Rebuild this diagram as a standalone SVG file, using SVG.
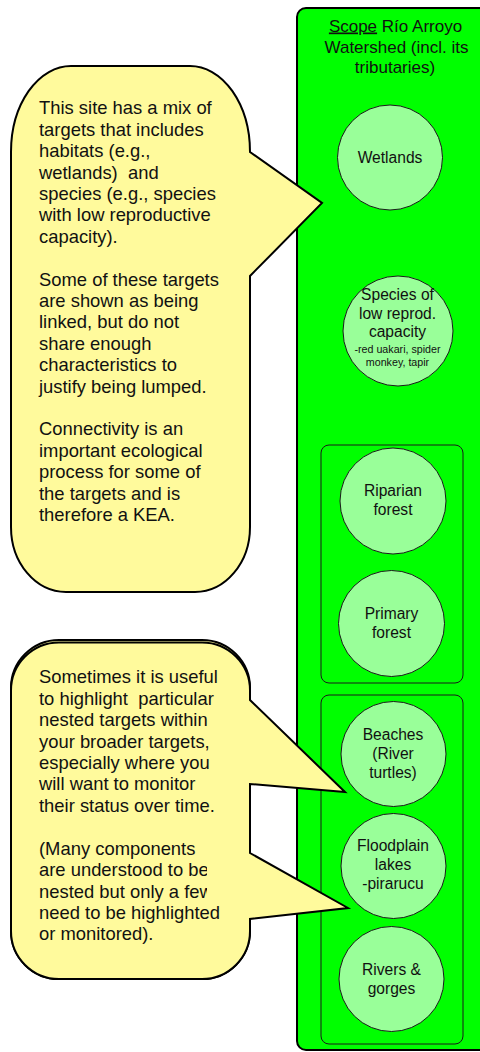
<svg xmlns="http://www.w3.org/2000/svg" width="480" height="1052" viewBox="0 0 480 1052">
<style>
text{font-family:"Liberation Sans",Arial,sans-serif;fill:#111}
.scope{fill:#00ff00;stroke:#000;stroke-width:2}
.grp{fill:none;stroke:#1a1a1a;stroke-width:1}
.node{fill:#99ff99;stroke:#1a1a1a;stroke-width:1}
.nt{font-size:15.6px;text-anchor:middle}
.st{font-size:17px;text-anchor:middle}
.small{font-size:10.7px;text-anchor:middle}
.call{fill:#fffa9c;stroke:#000;stroke-width:2;stroke-linejoin:miter}
.ct{font-size:18.4px}
</style>
<defs>
<clipPath id="clipcut"><rect x="0" y="0" width="207" height="1052"/></clipPath>
</defs>
<g id="scope">
<rect class="scope" x="297" y="8" width="200" height="1042" rx="9"/>
<text class="st" x="395.5" y="31.5"><tspan text-decoration="underline">Scope</tspan> Río Arroyo</text>
<text class="st" x="396.5" y="53">Watershed (incl. its</text>
<text class="st" x="395" y="73">tributaries)</text>
</g>
<g id="group-forest">
<rect class="grp" x="321" y="445" width="142" height="238" rx="8"/>
</g>
<g id="group-aquatic">
<rect class="grp" x="321" y="695" width="142" height="349" rx="8"/>
</g>
<g id="wetlands">
<circle class="node" cx="390" cy="157.5" r="52.5"/>
<text class="nt" x="390" y="162.5">Wetlands</text>
</g>
<g id="species">
<circle class="node" cx="398" cy="331" r="55"/>
<text class="nt" x="397.5" y="300">Species of</text>
<text class="nt" x="397.5" y="318.5">low reprod.</text>
<text class="nt" x="397.5" y="337">capacity</text>
<text class="small" x="397.5" y="353">-red uakari, spider</text>
<text class="small" x="397.5" y="365.5">monkey, tapir</text>
</g>
<g id="riparian">
<circle class="node" cx="393" cy="501" r="53"/>
<text class="nt" x="393" y="496">Riparian</text>
<text class="nt" x="393" y="515">forest</text>
</g>
<g id="primary">
<circle class="node" cx="391.5" cy="623.5" r="53"/>
<text class="nt" x="391.5" y="618.5">Primary</text>
<text class="nt" x="391.5" y="637.5">forest</text>
</g>
<g id="beaches">
<circle class="node" cx="393.5" cy="754" r="52.5"/>
<text class="nt" x="393" y="739.5">Beaches</text>
<text class="nt" x="393" y="758.5">(River</text>
<text class="nt" x="393" y="777.5">turtles)</text>
</g>
<g id="floodplain">
<circle class="node" cx="393.5" cy="866" r="52.5"/>
<text class="nt" x="393" y="851">Floodplain</text>
<text class="nt" x="393" y="870">lakes</text>
<text class="nt" x="393" y="889">-pirarucu</text>
</g>
<g id="rivers">
<circle class="node" cx="391.5" cy="979" r="52.5"/>
<text class="nt" x="391.5" y="975">Rivers &amp;</text>
<text class="nt" x="391.5" y="993.5">gorges</text>
</g>
<g id="connectors"/>
<g id="callout-mix">
<path class="call" d="M71,66 H190 A60 86 0 0 1 250,152 L322,203 L250,276 V527 A55 65 0 0 1 195,592 H66 A55 65 0 0 1 11,527 V152 A60 86 0 0 1 71,66 Z"/>
<text class="ct" x="39" y="114.3">This site has a mix of</text>
<text class="ct" x="39" y="135.7">targets that includes</text>
<text class="ct" x="39" y="157.1">habitats (e.g.,</text>
<text class="ct" x="39" y="178.5" xml:space="preserve">wetlands)  and</text>
<text class="ct" x="39" y="199.9">species (e.g., species</text>
<text class="ct" x="39" y="221.3">with low reproductive</text>
<text class="ct" x="39" y="242.7">capacity).</text>
<text class="ct" x="39" y="285.5">Some of these targets</text>
<text class="ct" x="39" y="306.9">are shown as being</text>
<text class="ct" x="39" y="328.3">linked, but do not</text>
<text class="ct" x="39" y="349.7">share enough</text>
<text class="ct" x="39" y="371.1">characteristics to</text>
<text class="ct" x="39" y="392.5">justify being lumped.</text>
<text class="ct" x="39" y="435.3">Connectivity is an</text>
<text class="ct" x="39" y="456.7">important ecological</text>
<text class="ct" x="39" y="478.1">process for some of</text>
<text class="ct" x="39" y="499.5">the targets and is</text>
<text class="ct" x="39" y="520.9">therefore a KEA.</text>
</g>
<g id="callout-nested">
<path class="call" d="M59,640 H202 A48 48 0 0 1 250,688 V931 A48 48 0 0 1 202,979 H59 A48 48 0 0 1 11,931 V688 A48 48 0 0 1 59,640 Z"/>
<path class="call" d="M59,642.5 H202 A48 48 0 0 1 250,690.5 V700 L345,792 L250,784 V853 L348,908 L250,919 V931 A48 48 0 0 1 202,979 H59 A48 48 0 0 1 11,931 V690.5 A48 48 0 0 1 59,642.5 Z"/>
<text class="ct" x="39" y="683.3">Sometimes it is useful</text>
<text class="ct" x="39" y="704.7" xml:space="preserve">to highlight  particular</text>
<text class="ct" x="39" y="726.1">nested targets within</text>
<text class="ct" x="39" y="747.5">your broader targets,</text>
<text class="ct" x="39" y="768.9">especially where you</text>
<text class="ct" x="39" y="790.3">will want to monitor</text>
<text class="ct" x="39" y="811.7">their status over time.</text>
<text class="ct" x="39" y="854.8">(Many components</text>
<text class="ct" x="39" y="876.2" clip-path="url(#clipcut)">are understood to be</text>
<text class="ct" x="39" y="897.6" clip-path="url(#clipcut)">nested but only a few</text>
<text class="ct" x="39" y="919">need to be highlighted</text>
<text class="ct" x="39" y="940.4">or monitored).</text>
</g>
</svg>
